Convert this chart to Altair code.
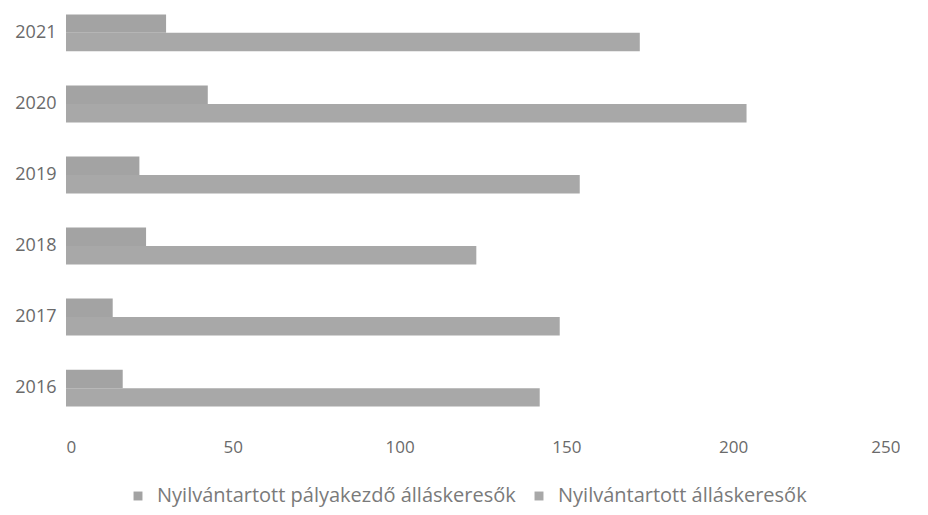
import altair as alt
import pandas as pd

years = ["2021", "2020", "2019", "2018", "2017", "2016"]
series = ["Nyilvántartott pályakezdő álláskeresők", "Nyilvántartott álláskeresők"]
palyakezdo = [30, 42.5, 22, 24, 14, 17]
osszes = [172, 204, 154, 123, 148, 142]

rows = []
for i, y in enumerate(years):
    rows.append({"ev": y, "sorozat": series[0], "ertek": palyakezdo[i]})
    rows.append({"ev": y, "sorozat": series[1], "ertek": osszes[i]})
df = pd.DataFrame(rows)

FONT = "Open Sans"

chart = alt.Chart(df).mark_bar().encode(
    y=alt.Y("ev:N", sort=years,
            scale=alt.Scale(paddingInner=0.48, paddingOuter=0.09),
            axis=alt.Axis(title=None, domain=False, ticks=False, labelPadding=10,
                          minExtent=58, labelFontSize=18, labelColor="#6a6a6a",
                          labelFont=FONT)),
    yOffset=alt.YOffset("sorozat:N", sort=series),
    x=alt.X("ertek:Q", scale=alt.Scale(domain=[0, 250], nice=False),
            axis=alt.Axis(title=None, values=[0, 50, 100, 150, 200, 250], grid=False,
                          domain=False, ticks=False, labelPadding=26,
                          labelFontSize=17, labelColor="#6a6a6a", labelFont=FONT)),
    color=alt.Color("sorozat:N", sort=series,
                    scale=alt.Scale(domain=series, range=["#a3a3a3", "#a8a8a8"]),
                    legend=alt.Legend(title=None, orient="none", direction="horizontal",
                                      legendX=62, legendY=478,
                                      symbolType="square", symbolSize=80,
                                      labelFontSize=20, labelColor="#7a7a7a", labelLimit=0,
                                      labelFont=FONT, columnPadding=13, labelOffset=9)),
).properties(
    width=834, height=405, background="white",
    padding={"left": 0, "top": 0, "right": 0, "bottom": 6}
).configure_view(strokeWidth=0, stroke=None)

chart.save("out.html", embed_options={"renderer": "svg", "actions": False})
